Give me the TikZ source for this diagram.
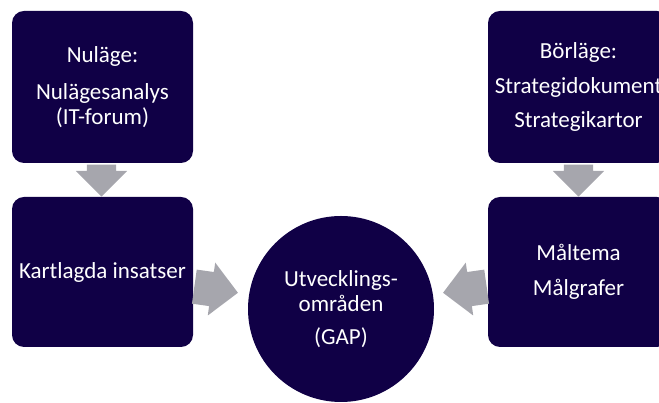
\documentclass[tikz,border=0pt]{standalone}
\usepackage{fontspec}
\setmainfont{Carlito}
\usepackage{xcolor}
\usepackage{tikz}
\usetikzlibrary{calc}
\usetikzlibrary{shapes.arrows}
\definecolor{navy}{RGB}{16,0,70}
\definecolor{arrowgray}{RGB}{166,166,173}

\begin{document}
\begin{tikzpicture}[x=1pt,y=1pt,
	box/.style={fill=navy,rounded corners=12pt,minimum width=181pt,text=white,align=center,font=\fontsize{23}{25}\selectfont},
	blockarrow/.style={single arrow,fill=arrowgray,inner xsep=0pt,single arrow head extend=#1,anchor=tip}]
					\clip (0,0) rectangle (659,403);
					\node[box,minimum height=152pt] (nulage) at (102.5,316) {Nuläge:\\[12pt]Nulägesanalys\\(IT-forum)};
					\node[box,minimum height=152pt] (borlage) at (578.5,316) {Börläge:\\[10pt]Strategidokument\\[10pt]Strategikartor};
					\node[box,minimum height=150pt] (insatser) at (102.5,131) {Kartlagda insatser};
					\node[box,minimum height=150pt] (maltema) at (578.5,131) {Måltema\\[10pt]Målgrafer};
					\node[box,circle,minimum size=186pt,inner sep=0pt] (gap) at (341,94) {Utvecklings-\\områden\\[8pt](GAP)};
					\node[blockarrow=11pt,inner ysep=14.5pt,minimum height=32pt,rotate=-90] (nudown) at ($(insatser.north)+(-1,0)$) {};
					\node[blockarrow=11pt,inner ysep=14.5pt,minimum height=32pt,rotate=-90] (bordown) at (maltema.north) {};
					\node[blockarrow=9.5pt,inner ysep=17pt,minimum height=44pt,rotate=-8] (inright) at ($(gap.170)+(-11,0)$) {};
					\node[blockarrow=9.5pt,inner ysep=17pt,minimum height=44pt,rotate=188] (malleft) at ($(gap.10)+(10,0)$) {};
				\end{tikzpicture}
\end{document}
